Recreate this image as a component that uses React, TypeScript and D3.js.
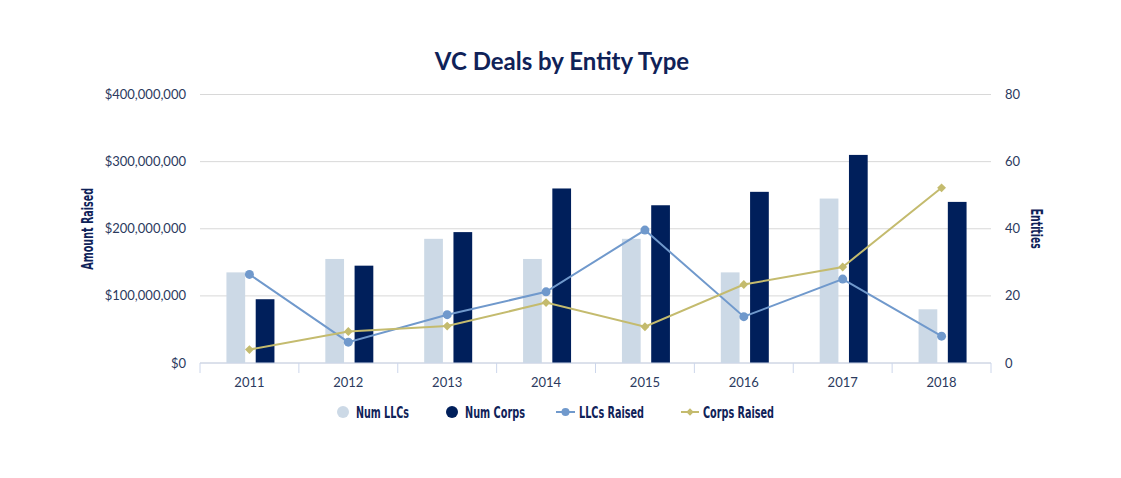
import React from "react";
import * as d3 from "d3";

const years = ["2011", "2012", "2013", "2014", "2015", "2016", "2017", "2018"];
const numLLCs = [27, 31, 37, 31, 37, 27, 49, 16];
const numCorps = [19, 29, 39, 52, 47, 51, 62, 48];
const llcsRaised = [132e6, 31e6, 72e6, 106e6, 198e6, 69e6, 125e6, 40e6];
const corpsRaised = [20e6, 47e6, 55e6, 90e6, 54e6, 117e6, 143e6, 261e6];
const leftTicks = [0, 100e6, 200e6, 300e6, 400e6];
const rightTicks = [0, 20, 40, 60, 80];

const W = 1121;
const H = 478;
const M = { top: 94.5, right: 130, bottom: 115, left: 200 };

const NAVY = "#0f2258";
const LIGHT = "#ccd9e6";
const DARK = "#001f5b";
const BLUE = "#7099cc";
const GOLD = "#c4bb6e";
const LABEL = "#2b3a5e";
const NARROW = "'DejaVu Sans Condensed', sans-serif";

// condensed bold text squeezed to the width seen in the reference
function Narrow(props: { x: number; y: number; w: number; children: string; transform?: string; anchor?: string }) {
  return (
    <text
      x={props.x}
      y={props.y}
      transform={props.transform}
      textAnchor={props.anchor}
      textLength={props.w}
      lengthAdjust="spacingAndGlyphs"
      fontFamily={NARROW}
      fontWeight={700}
      fontSize={15}
      fill={NAVY}
    >
      {props.children}
    </text>
  );
}

export default function App() {
  const x = d3.scaleBand().domain(years).range([M.left, W - M.right]);
  const inner = d3
    .scaleBand()
    .domain(["llc", "corp"])
    .range([-23, 25])
    .paddingInner(0.36);
  const yL = d3.scaleLinear().domain([0, 400e6]).range([H - M.bottom, M.top]);
  const yR = d3.scaleLinear().domain([0, 80]).range([H - M.bottom, M.top]);
  const cx = (d: string) => (x(d) ?? 0) + x.bandwidth() / 2;
  const fmt = (v: number) => "$" + d3.format(",")(v);

  const line = d3
    .line<number>()
    .x((_, i) => cx(years[i]))
    .y((d) => yL(d));

  const diamond = d3.symbol().type(d3.symbolDiamond2).size(50)();
  const base = H - M.bottom;
  const mid = (M.top + base) / 2;

  return (
    <svg
      width={W}
      height={H}
      style={{ position: "absolute", left: 0, top: 0, background: "#fff" }}
      fontFamily="Lato, sans-serif"
    >
      <text x={562} y={70} textAnchor="middle" fontSize={24} fontWeight={700} fill={NAVY}>
        VC Deals by Entity Type
      </text>

      {leftTicks.map((t) => (
        <g key={t}>
          <line x1={M.left} x2={W - M.right} y1={yL(t)} y2={yL(t)} stroke="#d8d8d8" />
          <text x={186} y={yL(t) + 4.5} textAnchor="end" fontSize={13} fill={LABEL}>
            {fmt(t)}
          </text>
        </g>
      ))}
      {rightTicks.map((t) => (
        <text key={t} x={1005} y={yR(t) + 4.5} fontSize={13} fill={LABEL}>
          {t}
        </text>
      ))}

      <Narrow x={0} y={0} w={82} anchor="middle" transform={`translate(93, ${mid}) rotate(-90)`}>
        Amount Raised
      </Narrow>
      <Narrow x={0} y={0} w={40} anchor="middle" transform={`translate(1031, ${mid}) rotate(90)`}>
        Entities
      </Narrow>

      {years.map((yr, i) => (
        <g key={yr}>
          <rect
            x={cx(yr) + (inner("llc") ?? 0)}
            width={inner.bandwidth()}
            y={yR(numLLCs[i])}
            height={base - yR(numLLCs[i])}
            fill={LIGHT}
          />
          <rect
            x={cx(yr) + (inner("corp") ?? 0)}
            width={inner.bandwidth()}
            y={yR(numCorps[i])}
            height={base - yR(numCorps[i])}
            fill={DARK}
          />
        </g>
      ))}

      <line x1={M.left} x2={W - M.right} y1={base} y2={base} stroke="#ccd6eb" />
      {[...years.map((yr) => x(yr) ?? 0), W - M.right].map((t, i) => (
        <line key={i} x1={t} x2={t} y1={base} y2={base + 10} stroke="#ccd6eb" />
      ))}
      {years.map((yr) => (
        <text key={yr} x={cx(yr)} y={base + 24} textAnchor="middle" fontSize={13} fill={LABEL}>
          {yr}
        </text>
      ))}

      <path d={line(llcsRaised) ?? ""} fill="none" stroke={BLUE} strokeWidth={2} />
      {llcsRaised.map((v, i) => (
        <circle key={i} cx={cx(years[i])} cy={yL(v)} r={4.5} fill={BLUE} />
      ))}
      <path d={line(corpsRaised) ?? ""} fill="none" stroke={GOLD} strokeWidth={2} />
      {corpsRaised.map((v, i) => (
        <path key={i} d={diamond ?? ""} transform={`translate(${cx(years[i])},${yL(v)})`} fill={GOLD} />
      ))}

      <g>
        <circle cx={343} cy={412} r={6} fill={LIGHT} />
        <Narrow x={356} y={418} w={53}>Num LLCs</Narrow>
        <circle cx={452} cy={412} r={6} fill={DARK} />
        <Narrow x={465} y={418} w={60}>Num Corps</Narrow>
        <line x1={556} x2={575} y1={412} y2={412} stroke={BLUE} strokeWidth={2} />
        <circle cx={565.5} cy={412} r={4} fill={BLUE} />
        <Narrow x={579} y={418} w={65}>LLCs Raised</Narrow>
        <line x1={681} x2={699} y1={412} y2={412} stroke={GOLD} strokeWidth={2} />
        <path d={d3.symbol().type(d3.symbolDiamond2).size(36)() ?? ""} transform="translate(690,412)" fill={GOLD} />
        <Narrow x={703} y={418} w={71}>Corps Raised</Narrow>
      </g>
    </svg>
  );
}
